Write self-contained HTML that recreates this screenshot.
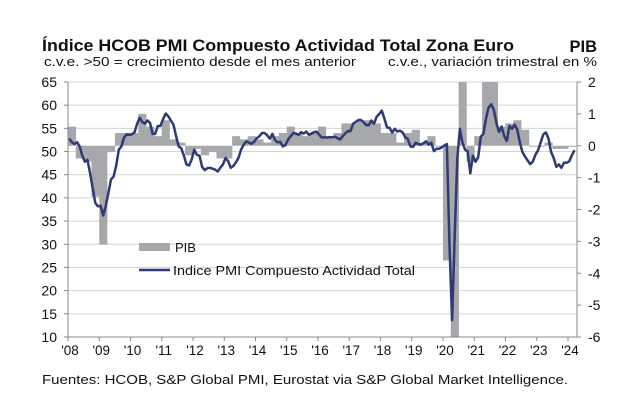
<!DOCTYPE html>
<html><head><meta charset="utf-8"><style>
body{margin:0;background:#fff;width:640px;height:412px;overflow:hidden;font-family:"Liberation Sans",Arial,sans-serif;}
svg{display:block}
</style></head><body>
<svg width="640" height="412" font-family="Liberation Sans, Arial, sans-serif">
<text x="42" y="51" font-size="16.5" font-weight="bold" fill="#111" textLength="472" lengthAdjust="spacingAndGlyphs">Índice HCOB PMI Compuesto Actividad  Total Zona Euro</text>
<text x="44" y="66" font-size="13" fill="#111" textLength="312" lengthAdjust="spacingAndGlyphs">c.v.e. &gt;50 = crecimiento desde el mes anterior</text>
<text x="597" y="52" font-size="16.5" font-weight="bold" fill="#111" text-anchor="end">PIB</text>
<text x="388" y="66" font-size="13" fill="#111" textLength="209" lengthAdjust="spacingAndGlyphs">c.v.e., variación trimestral en %</text>
<g id="grid"></g><g id="bars"></g><g id="axes"></g><g id="line"></g>
<g>
<rect x="139" y="243" width="31" height="8" fill="#a6a8ab"/>
<text x="175" y="252" font-size="13" fill="#111">PIB</text>
<line x1="139" y1="270" x2="170" y2="270" stroke="#2e3a73" stroke-width="2.5"/>
<text x="173" y="275" font-size="13" fill="#111" textLength="242" lengthAdjust="spacingAndGlyphs">Indice PMI Compuesto Actividad Total</text>
</g>
<text x="42" y="384" font-size="13" fill="#111" textLength="526" lengthAdjust="spacingAndGlyphs">Fuentes: HCOB, S&amp;P Global PMI, Eurostat via S&amp;P Global Market Intelligence.</text>
</svg>
<script>
const pmiValues=[52.8,52.0,51.6,52.0,51.1,49.1,47.8,48.2,45.3,42.1,38.9,38.2,
38.3,36.2,38.3,41.1,44.0,44.6,47.0,50.4,51.1,53.0,53.7,53.6,
53.7,54.1,55.9,57.3,56.4,56.0,56.7,56.2,53.8,53.8,55.5,55.5,
57.0,58.2,57.6,56.7,55.8,53.3,51.1,50.7,49.1,47.2,47.0,48.3,
50.4,49.3,49.1,46.7,46.0,46.4,46.5,46.3,46.1,45.7,46.5,47.2,
48.6,47.9,46.5,46.9,47.7,48.7,50.5,51.5,52.2,51.9,51.7,52.1,
52.9,53.3,54.0,54.0,53.5,52.8,53.8,52.5,52.0,52.1,51.1,51.4,
52.6,53.3,54.0,53.9,53.6,54.2,53.9,54.3,53.6,53.9,54.2,54.3,
53.6,53.0,53.1,53.0,53.1,53.1,53.2,52.9,52.6,53.3,53.9,54.4,
54.4,56.0,56.4,56.8,56.8,56.3,55.7,55.7,56.7,56.0,57.5,58.1,
58.8,57.1,55.2,55.1,54.1,54.9,54.3,54.5,54.1,53.1,52.7,51.1,
51.0,51.9,51.6,51.5,51.8,52.2,51.5,51.9,50.1,50.6,50.6,50.9,
51.3,51.6,29.7,13.6,31.9,48.5,54.9,51.9,50.4,50.0,45.3,49.1,
47.8,48.8,53.2,53.8,57.1,59.5,60.2,59.0,56.2,54.2,55.4,53.3,
52.3,55.5,54.9,55.8,54.8,52.0,49.9,48.9,48.1,47.3,47.8,49.3,
50.3,52.0,53.7,54.1,52.8,49.9,48.6,46.7,47.2,46.5,47.6,47.6,
47.9,49.2,50.3];
const gdpValues=[0.6,-0.4,-0.5,-1.6,
-3.1,-0.2,0.4,0.4,
0.4,1.0,0.6,0.3,
0.8,0.2,0.1,-0.3,
-0.1,-0.3,-0.2,-0.4,
-0.4,0.3,0.2,0.3,
0.2,0.1,0.3,0.4,
0.6,0.4,0.3,0.4,
0.6,0.3,0.4,0.7,
0.7,0.8,0.8,0.7,
0.4,0.4,0.1,0.4,
0.5,0.1,0.3,0.0,
-3.6,-11.6,12.4,-0.5,
0.3,2.1,2.2,0.6,
0.7,0.8,0.5,0.0,
0.0,0.1,-0.1,-0.1,
0.0];
const leftTicks=[10,15,20,25,30,35,40,45,50,55,60,65];
const rightTicks=[-6,-5,-4,-3,-2,-1,0,1,2];
const yearLabels=["'08","'09","'10","'11","'12","'13","'14","'15","'16","'17","'18","'19","'20","'21","'22","'23","'24"];
const NS="http://www.w3.org/2000/svg";
const X0=68,X1=577,YT=82,YB=337,PX=31.25;
const xT=t=>X0+t*PX;
const yL=v=>YB-(v-10)/55*(YB-YT);
const yR=v=>YB-(v+6)/8*(YB-YT);
function mk(tag,attrs,parent){const e=document.createElementNS(NS,tag);for(const k in attrs)e.setAttribute(k,attrs[k]);document.getElementById(parent).appendChild(e);return e;}
leftTicks.forEach(v=>{
 if(v>10){const g=mk('line',{x1:X0,x2:X1,y1:yL(v),y2:yL(v),stroke:'#d4d4d4','stroke-width':1},'grid');
 
 }
 const t=mk('text',{x:57,y:yL(v)+5,'font-size':14,'text-anchor':'end',fill:'#111'},'axes');t.textContent=v;
 
 
 mk('line',{x1:X0-4,x2:X0,y1:yL(v),y2:yL(v),stroke:'#888'},'axes');
});
rightTicks.forEach(v=>{
 const t=mk('text',{x:588,y:yR(v)+5,'font-size':14,'text-anchor':'start',fill:'#111'},'axes');t.textContent=v;
 
 
 mk('line',{x1:X1,x2:X1+4,y1:yR(v),y2:yR(v),stroke:'#888'},'axes');
});
mk('line',{x1:X0,x2:X0,y1:YT,y2:YB,stroke:'#888'},'axes');
mk('line',{x1:X1,x2:X1,y1:YT,y2:YB,stroke:'#888'},'axes');
mk('line',{x1:X0,x2:X1,y1:YB,y2:YB,stroke:'#888'},'axes');
yearLabels.forEach((l,i)=>{
 mk('line',{x1:xT(i),x2:xT(i),y1:YB,y2:YB+4,stroke:'#888'},'axes');
 const t=mk('text',{x:xT(i)+2,y:YB+18,'font-size':13.5,'text-anchor':'middle',fill:'#111'},'axes');t.textContent=l;
 
 
});
gdpValues.forEach((v,i)=>{
 const c=Math.max(-6,Math.min(2,v));
 const y0=yR(0),y1=yR(c);
 const r=mk('rect',{x:xT(i/4),width:PX/4+0.3,y:Math.min(y0,y1),height:Math.max(1,Math.abs(y1-y0)),fill:'#a6a8ab'},'bars');
 
 
});
const pts=pmiValues.map((v,i)=>xT((i+0.5)/12).toFixed(1)+','+yL(v).toFixed(1)).join(' ');
const pl=mk('polyline',{points:pts,fill:'none',stroke:'#2e3a73','stroke-width':2.5,'stroke-linejoin':'round'},'line');


</script>
</body></html>
